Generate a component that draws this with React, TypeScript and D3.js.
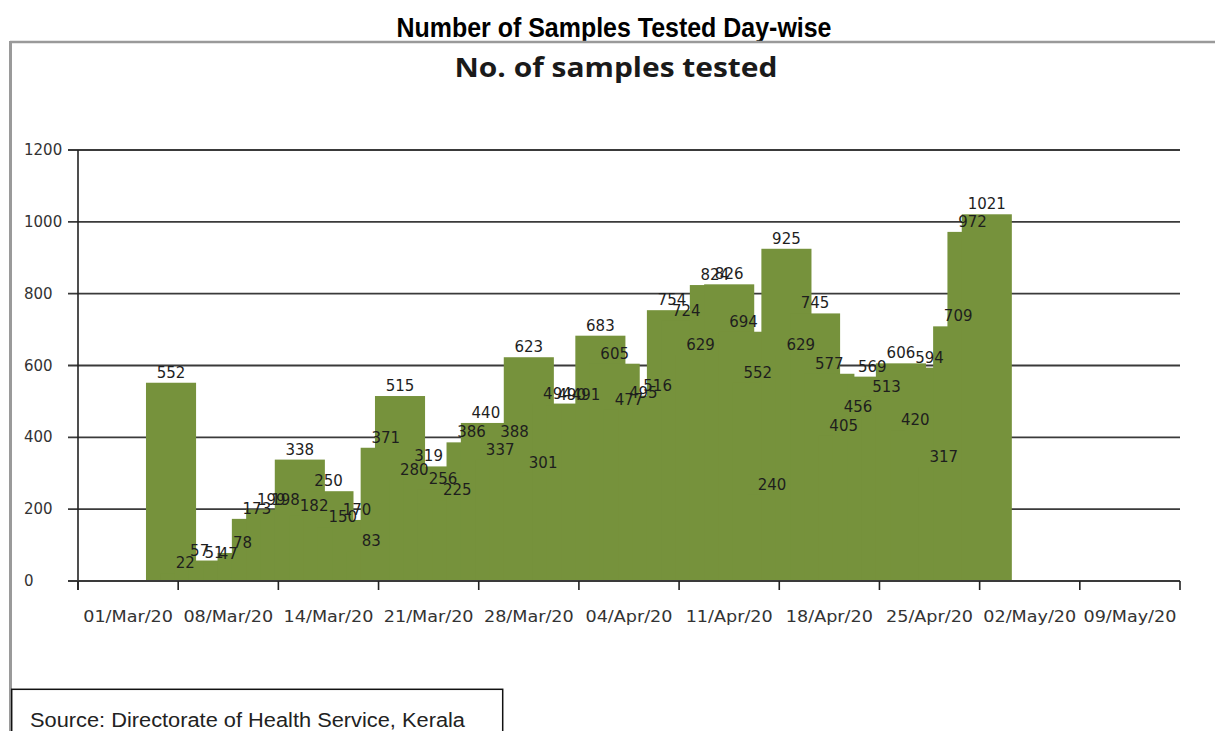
import React from "react";
import * as d3 from "d3";

// Daily samples tested (one value per day)
const values: number[] = [
  552, 22, 57, 51, 47, 78, 173, 199, 198, 338,
  182, 250, 150, 170, 83, 371, 515, 280, 319, 256,
  225, 386, 440, 337, 388, 623, 301, 494, 490, 491,
  683, 605, 477, 495, 516, 754, 724, 629, 824, 826,
  694, 552, 240, 925, 629, 745, 577, 405, 456, 569,
  513, 606, 420, 594, 317, 709, 972, 1021,
];
// category (day) index of the first value on the axis
const firstDay = 6;
const dayCount = 77;
const tickLabels: string[] = [
  "01/Mar/20", "08/Mar/20", "14/Mar/20", "21/Mar/20", "28/Mar/20", "04/Apr/20",
  "11/Apr/20", "18/Apr/20", "25/Apr/20", "02/May/20", "09/May/20",
];
const yTicks: number[] = [0, 200, 400, 600, 800, 1000, 1200];

const W = 1215;
const H = 731;
const BAR_DAYS = 3.5;
const GREEN = "#76923c";

export default function App() {
  const x = d3.scaleLinear().domain([0, dayCount]).range([78, 1180]);
  const y = d3.scaleLinear().domain([0, 1200]).range([581, 150]);
  const barW = x(BAR_DAYS) - x(0);
  const tickDays = d3.range(0, dayCount + 1, 7);

  return (
    <svg
      width={W}
      height={H}
      style={{ position: "absolute", left: 0, top: 0, background: "#fff" }}
    >
      {/* Page title */}
      <text
        x={614}
        y={37}
        textAnchor="middle"
        fontFamily="'Liberation Sans Narrow', 'Liberation Sans', Arial, sans-serif"
        fontWeight="bold"
        fontSize={27}
        textLength={435}
        lengthAdjust="spacingAndGlyphs"
        fill="#000"
      >
        Number of Samples Tested Day-wise
      </text>

      {/* outer frame */}
      <line x1={10} y1={42} x2={W} y2={42} stroke="#9a9a9a" strokeWidth={2.5} />
      <line x1={10.5} y1={41} x2={10.5} y2={H} stroke="#9a9a9a" strokeWidth={3} />

      {/* chart title */}
      <text
        x={616}
        y={77}
        textAnchor="middle"
        fontFamily="'Open Sans', 'Liberation Sans', Arial, sans-serif"
        fontWeight="bold"
        fontSize={26}
        textLength={323}
        lengthAdjust="spacingAndGlyphs"
        fill="#1a1a1a"
      >
        No. of samples tested
      </text>

      {/* gridlines */}
      {yTicks.map((t) => (
        <line
          key={"g" + t}
          x1={68}
          x2={1180}
          y1={y(t)}
          y2={y(t)}
          stroke="#3a3a3a"
          strokeWidth={1.8}
        />
      ))}

      {/* bars */}
      {values.map((v, i) => {
        const c = firstDay + i + 0.5;
        return (
          <rect
            key={"b" + i}
            x={x(c - BAR_DAYS / 2)}
            y={y(v)}
            width={barW}
            height={y(0) - y(v)}
            fill={GREEN}
          />
        );
      })}

      {/* axes */}
      <line x1={78} x2={78} y1={150} y2={590} stroke="#222" strokeWidth={1.6} />
      <line x1={68} x2={1180} y1={y(0)} y2={y(0)} stroke="#3a3a3a" strokeWidth={1.8} />
      {tickDays.map((d) => (
        <line
          key={"t" + d}
          x1={x(d)}
          x2={x(d)}
          y1={y(0)}
          y2={y(0) + 9}
          stroke="#222"
          strokeWidth={1.6}
        />
      ))}

      {/* y tick labels */}
      {yTicks.map((t) => (
        <text
          key={"yl" + t}
          x={24}
          y={y(t)}
          dominantBaseline="central"
          fontFamily="'DejaVu Sans', Verdana, sans-serif"
          fontSize={15}
          fill="#333"
        >
          {t}
        </text>
      ))}

      {/* x tick labels */}
      {tickLabels.map((lab, k) => (
        <g key={"xl" + k} transform={`translate(${x(tickDays[k] + 3.5)},622) scale(1.1,1)`}>
          <text
            x={0}
            y={0}
            textAnchor="middle"
            fontFamily="'DejaVu Sans', Verdana, sans-serif"
            fontSize={16}
            fill="#333"
          >
            {lab}
          </text>
        </g>
      ))}

      {/* data labels */}
      {values.map((v, i) => {
        const c = firstDay + i + 0.5;
        return (
          <text
            key={"dl" + i}
            x={x(c)}
            y={y(v) - 5}
            textAnchor="middle"
            fontFamily="'DejaVu Sans', Verdana, sans-serif"
            fontSize={15}
            fill="#1e1e1e"
          >
            {v}
          </text>
        );
      })}

      {/* source box */}
      <rect x={11.7} y={689.3} width={491} height={60} fill="#fff" stroke="#111" strokeWidth={1.5} />
      <text
        x={30}
        y={727}
        fontFamily="'Liberation Sans', Arial, sans-serif"
        fontSize={20}
        textLength={435}
        lengthAdjust="spacingAndGlyphs"
        fill="#222"
      >
        Source: Directorate of Health Service, Kerala
      </text>
    </svg>
  );
}
